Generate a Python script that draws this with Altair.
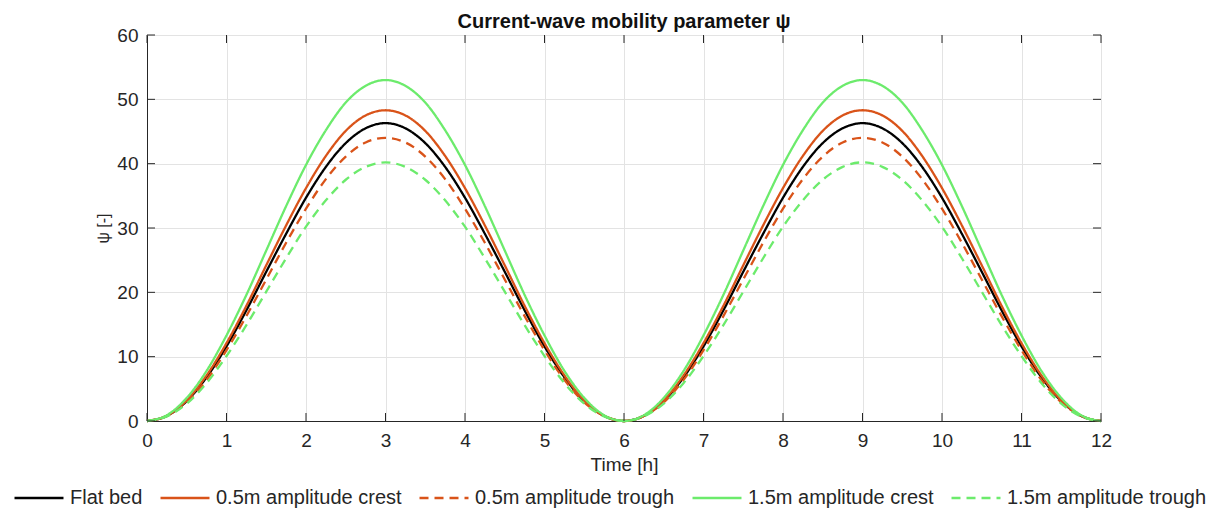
import altair as alt
import pandas as pd

# Time axis (h), 0.25 h steps
time_h = [i * 0.25 for i in range(49)]

flat_bed = [0, 0.8, 3.1, 6.8, 11.6, 17.2, 23.2, 29.1, 34.7, 39.5, 43.2, 45.5, 46.3,
            45.5, 43.2, 39.5, 34.7, 29.1, 23.2, 17.2, 11.6, 6.8, 3.1, 0.8, 0,
            0.8, 3.1, 6.8, 11.6, 17.2, 23.2, 29.1, 34.7, 39.5, 43.2, 45.5, 46.3,
            45.5, 43.2, 39.5, 34.7, 29.1, 23.2, 17.2, 11.6, 6.8, 3.1, 0.8, 0]
crest_05 = [0, 0.8, 3.2, 7.1, 12.1, 17.9, 24.2, 30.4, 36.2, 41.2, 45.1, 47.5, 48.3,
            47.5, 45.1, 41.2, 36.2, 30.4, 24.2, 17.9, 12.1, 7.1, 3.2, 0.8, 0,
            0.8, 3.2, 7.1, 12.1, 17.9, 24.2, 30.4, 36.2, 41.2, 45.1, 47.5, 48.3,
            47.5, 45.1, 41.2, 36.2, 30.4, 24.2, 17.9, 12.1, 7.1, 3.2, 0.8, 0]
trough_05 = [0, 0.8, 2.9, 6.4, 11.0, 16.3, 22.0, 27.7, 33.0, 37.6, 41.1, 43.3, 44.0,
             43.3, 41.1, 37.6, 33.0, 27.7, 22.0, 16.3, 11.0, 6.4, 2.9, 0.8, 0,
             0.8, 2.9, 6.4, 11.0, 16.3, 22.0, 27.7, 33.0, 37.6, 41.1, 43.3, 44.0,
             43.3, 41.1, 37.6, 33.0, 27.7, 22.0, 16.3, 11.0, 6.4, 2.9, 0.8, 0]
crest_15 = [0, 0.9, 3.6, 7.8, 13.3, 19.6, 26.5, 33.4, 39.8, 45.2, 49.5, 52.1, 53.0,
            52.1, 49.5, 45.2, 39.8, 33.4, 26.5, 19.6, 13.3, 7.8, 3.6, 0.9, 0,
            0.9, 3.6, 7.8, 13.3, 19.6, 26.5, 33.4, 39.8, 45.2, 49.5, 52.1, 53.0,
            52.1, 49.5, 45.2, 39.8, 33.4, 26.5, 19.6, 13.3, 7.8, 3.6, 0.9, 0]
trough_15 = [0, 0.7, 2.7, 5.9, 10.1, 14.9, 20.1, 25.3, 30.2, 34.3, 37.5, 39.5, 40.2,
             39.5, 37.5, 34.3, 30.2, 25.3, 20.1, 14.9, 10.1, 5.9, 2.7, 0.7, 0,
             0.7, 2.7, 5.9, 10.1, 14.9, 20.1, 25.3, 30.2, 34.3, 37.5, 39.5, 40.2,
             39.5, 37.5, 34.3, 30.2, 25.3, 20.1, 14.9, 10.1, 5.9, 2.7, 0.7, 0]

series_names = ["Flat bed", "0.5m amplitude crest", "0.5m amplitude trough",
                "1.5m amplitude crest", "1.5m amplitude trough"]
series_values = [flat_bed, crest_05, trough_05, crest_15, trough_15]
series_colors = ["#000000", "#D95319", "#D95319", "#6CEB6C", "#6CEB6C"]
series_dash = [[1, 0], [1, 0], [9, 6], [1, 0], [9, 6]]

x_ticks = list(range(13))
y_ticks = [0, 10, 20, 30, 40, 50, 60]

rows = []
for k, (name, vals) in enumerate(zip(series_names, series_values)):
    for t, v in zip(time_h, vals):
        rows.append({"t": t, "v": v, "series": name, "k": k})
df = pd.DataFrame(rows)

W, H = 954, 386
FONT = "Liberation Sans"
TXT = "#262626"

x_scale = alt.Scale(domain=[0, 12], nice=False)
y_scale = alt.Scale(domain=[0, 60], nice=False)

xaxis = alt.Axis(values=x_ticks, title="Time [h]", grid=True, gridColor="#e3e3e3",
                 ticks=False, labelPadding=10, titlePadding=5, domainColor=TXT,
                 labelFontSize=19, titleFontSize=19, labelFont=FONT, titleFont=FONT,
                 labelColor=TXT, titleColor=TXT, titleFontWeight="normal",
                 labelFlush=False)
yaxis = alt.Axis(values=y_ticks, title="ψ [-]", grid=True, gridColor="#e3e3e3",
                 ticks=False, labelPadding=9, titlePadding=5, domainColor=TXT,
                 labelFontSize=19, titleFontSize=16, labelFont=FONT, titleFont=FONT,
                 labelColor=TXT, titleColor=TXT, titleFontWeight="normal")

legend = alt.Legend(title=None, orient="none", legendX=-134, legendY=437,
                    direction="horizontal", columns=5,
                    symbolType="stroke", symbolSize=2400,
                    symbolStrokeWidth=2.5, labelFontSize=20,
                    labelFont=FONT, labelColor=TXT, columnPadding=12,
                    labelOffset=5, labelLimit=400)

lines = alt.Chart(df).mark_line(strokeWidth=2.3, interpolate="monotone").encode(
    x=alt.X("t:Q", scale=x_scale, axis=xaxis),
    y=alt.Y("v:Q", scale=y_scale, axis=yaxis),
    color=alt.Color("series:N", scale=alt.Scale(domain=series_names, range=series_colors),
                    legend=legend),
    strokeDash=alt.StrokeDash("series:N", scale=alt.Scale(domain=series_names, range=series_dash),
                              legend=legend),
    order=alt.Order("k:Q"),
    detail="series:N",
)

xt = pd.DataFrame({"t": x_ticks})
yt = pd.DataFrame({"v": y_ticks})

xt_bot = alt.Chart(xt).mark_rule(color=TXT, strokeWidth=1).encode(
    x=alt.X("t:Q", scale=x_scale, axis=xaxis), y=alt.value(H), y2=alt.value(H - 8))
xt_top = alt.Chart(xt).mark_rule(color=TXT, strokeWidth=1).encode(
    x=alt.X("t:Q", scale=x_scale, axis=xaxis), y=alt.value(0), y2=alt.value(8))
yt_left = alt.Chart(yt).mark_rule(color=TXT, strokeWidth=1).encode(
    y=alt.Y("v:Q", scale=y_scale, axis=yaxis), x=alt.value(0), x2=alt.value(8))
yt_right = alt.Chart(yt).mark_rule(color=TXT, strokeWidth=1).encode(
    y=alt.Y("v:Q", scale=y_scale, axis=yaxis), x=alt.value(W), x2=alt.value(W - 8))

chart = alt.layer(lines, xt_bot, xt_top, yt_left, yt_right).properties(
    width=W, height=H,
    title=alt.TitleParams("Current-wave mobility parameter ψ", font=FONT, fontSize=20,
                          fontWeight="bold", color="#111111", anchor="middle", offset=8,
                          dy=14),
    autosize=alt.AutoSizeParams(type="none"),
    padding={"left": 147, "top": 35, "right": 127, "bottom": 97},
).configure_view(stroke=TXT, strokeWidth=1).configure(background="white")

chart.save("out.html", embed_options={"renderer": "svg", "actions": False})
